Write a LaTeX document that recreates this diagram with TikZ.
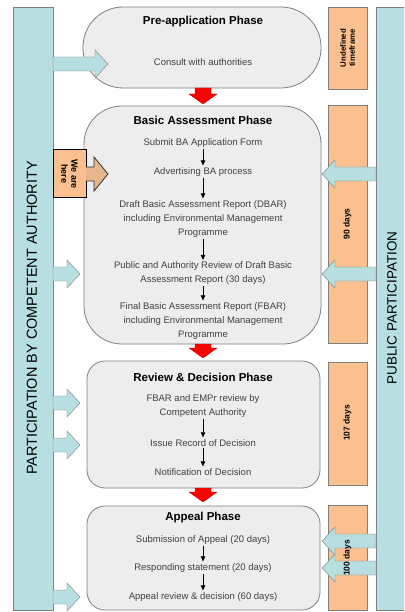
\documentclass[tikz,border=0pt]{standalone}
\usepackage{fontspec}
\setmainfont{Liberation Sans}
\usetikzlibrary{arrows.meta}
\definecolor{barblue}{HTML}{B7DEE0}
\definecolor{boxorange}{HTML}{FAC090}
\definecolor{phasegray}{HTML}{EDEDED}
\definecolor{linegray}{HTML}{7F7F7F}
\definecolor{itemgray}{HTML}{404040}
\definecolor{heretan}{HTML}{E6B68C}
\tikzset{
  phasetitle/.style={font=\fontsize{11.5}{13}\selectfont\bfseries},
  item/.style={align=center,font=\fontsize{9.5}{14}\selectfont,text=itemgray,inner sep=1pt},
  flow/.style={-{Triangle[length=5pt,width=4.5pt]},line width=0.6pt,shorten >=1pt},
  daytext/.style={rotate=90,align=center,font=\fontsize{8.5}{9.5}\selectfont\bfseries}
}
\newcommand{\blkright}[4]{\draw[fill=#4,draw=linegray] (#1,#3-7) -- (#2-13,#3-7) -- (#2-13,#3-14) -- (#2,#3) -- (#2-13,#3+14) -- (#2-13,#3+7) -- (#1,#3+7) -- cycle;}
\newcommand{\blkleft}[3]{\draw[fill=barblue,draw=linegray] (#1,#3-7) -- (#2+13,#3-7) -- (#2+13,#3-14) -- (#2,#3) -- (#2+13,#3+14) -- (#2+13,#3+7) -- (#1,#3+7) -- cycle;}
\newcommand{\blkdown}[3]{\draw[fill=red,draw=red!70!black,line width=0.3pt] (#1-8,#2) -- (#1+8,#2) -- (#1+8,#3-10) -- (#1+14,#3-10) -- (#1,#3) -- (#1-14,#3-10) -- (#1-8,#3-10) -- cycle;}
\begin{document}
\begin{tikzpicture}[x=1pt,y=-1pt]
  \useasboundingbox (0,0) rectangle (404,612);
  \clip (0,0) rectangle (404,612);
  \draw[rounded corners=40pt] (83,7) rectangle (321,88)[fill=phasegray,draw=linegray,line width=0.8pt];
  \draw[rounded corners=38pt] (84,106) rectangle (321,344)[fill=phasegray,draw=linegray,line width=0.8pt];
  \draw[rounded corners=18pt] (87,361) rectangle (320,488)[fill=phasegray,draw=linegray,line width=0.8pt];
  \draw[rounded corners=18pt] (87,506) rectangle (320,610)[fill=phasegray,draw=linegray,line width=0.8pt];
  \draw (13,7) rectangle (53,610)[fill=barblue,draw=linegray];
  \draw (376,7) rectangle (420,610)[fill=barblue,draw=linegray];
  \draw (328,7) rectangle (367,89)[fill=boxorange,draw=linegray];
  \draw (328,105) rectangle (367,343)[fill=boxorange,draw=linegray];
  \draw (328,362) rectangle (367,485)[fill=boxorange,draw=linegray];
  \draw (328,505) rectangle (367,610)[fill=boxorange,draw=linegray];
  \draw (53,150) rectangle (86,198)[fill=boxorange,draw=black,line width=1pt];
  \draw (86,167) -- (94,167) -- (94,157) -- (108,174) -- (94,191) -- (94,181) -- (86,181)
        [fill=heretan,draw=black!80,line width=0.8pt];
  \blkdown{203}{88}{104}
  \blkdown{203}{344}{358}
  \blkdown{203}{488}{502}
  \blkright{53}{108}{64}{barblue}
  \blkright{53}{80}{274}{barblue}
  \blkright{53}{80}{403}{barblue}
  \blkright{53}{80}{445}{barblue}
  \blkright{53}{80}{597}{barblue}
  \blkleft{376}{322}{174}
  \blkleft{376}{322}{274}
  \blkleft{376}{322}{541}
  \blkleft{376}{322}{568}

  \node[rotate=90,font=\fontsize{14.5}{16}\selectfont] (cabar) at (32,318) {PARTICIPATION BY COMPETENT AUTHORITY};
  \node[rotate=90,font=\fontsize{13.5}{15}\selectfont] (ppbar) at (392,308) {PUBLIC PARTICIPATION};
  \node[daytext,font=\fontsize{7.8}{9}\selectfont\bfseries] (undef) at (347.5,48) {Undefined\\timeframe};
  \node[daytext] (d90) at (347.5,224) {90 days};
  \node[daytext] (d107) at (347.5,423) {107 days};
  \node[daytext] (d100) at (347.5,558) {100 days};
  \node[rotate=-90,align=center,font=\fontsize{9}{10}\selectfont\bfseries] (here) at (69.5,174) {We are\\here};

  \node[phasetitle] (pre) at (203,22) {Pre-application Phase};
  \node[item] (consult) at (203,62) {Consult with authorities};

  \node[phasetitle] (basic) at (203,120) {Basic Assessment Phase};
  \node[item] (submit) at (203,143) {Submit BA Application Form};
  \node[item] (advert) at (203,172) {Advertising BA process};
  \node[item] (dbar) at (203,219) {Draft Basic Assessment Report (DBAR)\\including Environmental Management\\Programme};
  \node[item] (review) at (203,273.5) {Public and Authority Review of Draft Basic\\Assessment Report (30 days)};
  \node[item] (fbar) at (203,321) {Final Basic Assessment Report (FBAR)\\including Environmental Management\\Programme};
  \draw[flow] (submit.south) -- (advert.north);
  \draw[flow] (advert.south) -- (dbar.north);
  \draw[flow] (dbar.south) -- (review.north);
  \draw[flow] (review.south) -- (fbar.north);

  \node[phasetitle] (decide) at (203,377) {Review \& Decision Phase};
  \node[item] (empr) at (203,406) {FBAR and EMPr review by\\Competent Authority};
  \node[item] (record) at (203,443) {Issue Record of Decision};
  \node[item] (notify) at (203,472) {Notification of Decision};
  \draw[flow] (empr.south) -- (record.north);
  \draw[flow] (record.south) -- (notify.north);

  \node[phasetitle] (appeal) at (203,518) {Appeal Phase};
  \node[item] (submission) at (203,540) {Submission of Appeal (20 days)};
  \node[item] (respond) at (203,568) {Responding statement (20 days)};
  \node[item] (outcome) at (203,597) {Appeal review \& decision (60 days)};
  \draw[flow] (submission.south) -- (respond.north);
  \draw[flow] (respond.south) -- (outcome.north);
\end{tikzpicture}
\end{document}
